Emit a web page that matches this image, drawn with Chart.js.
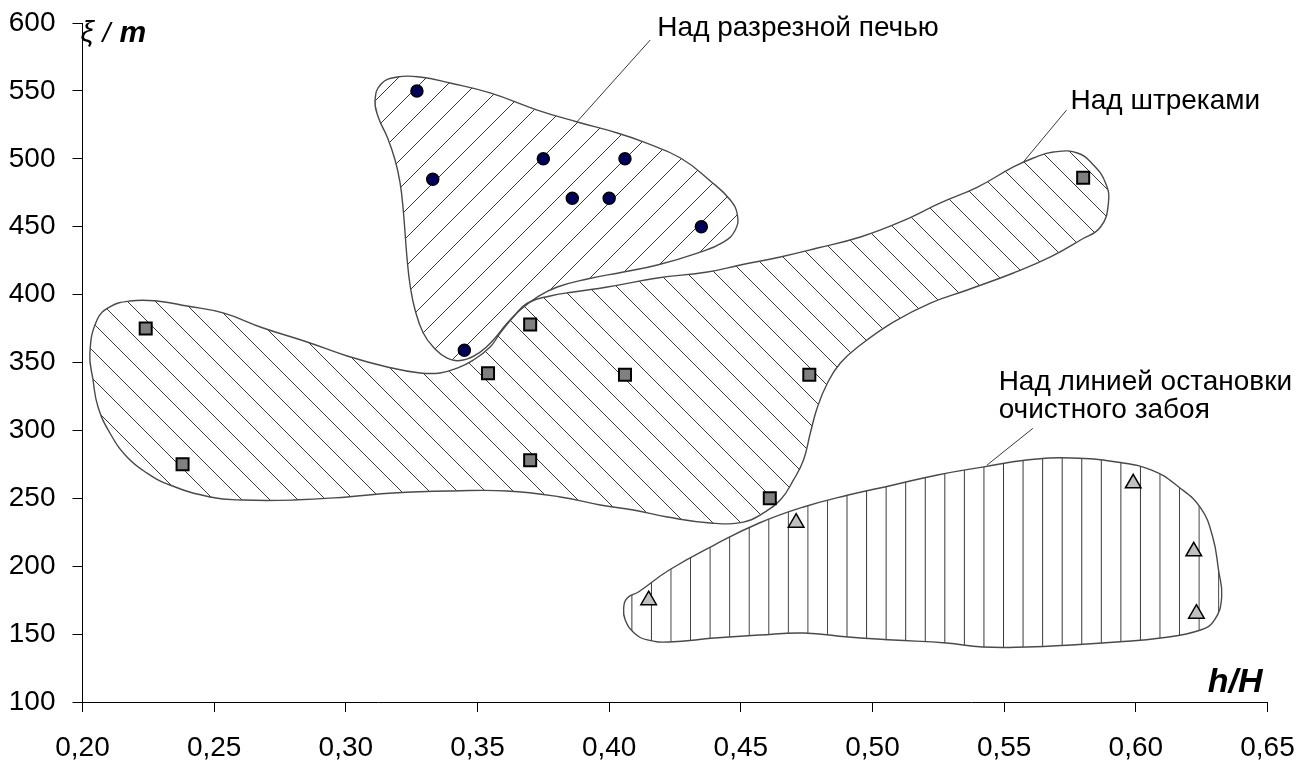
<!DOCTYPE html>
<html><head><meta charset="utf-8">
<script src="https://cdn.jsdelivr.net/npm/chart.js@4.4.1/dist/chart.umd.min.js"></script>
<style>html,body{margin:0;padding:0;background:#fff;overflow:hidden}canvas{display:block}</style>
</head><body>
<canvas id="c" width="1312" height="764"></canvas>
<script>
// ---- tick values / labels ----
const xTickValues = [0.20, 0.25, 0.30, 0.35, 0.40, 0.45, 0.50, 0.55, 0.60, 0.65];
const xTickLabels = ['0,20', '0,25', '0,30', '0,35', '0,40', '0,45', '0,50', '0,55', '0,60', '0,65'];
const yTickValues = [100, 150, 200, 250, 300, 350, 400, 450, 500, 550, 600];
const yTickLabels = ['100', '150', '200', '250', '300', '350', '400', '450', '500', '550', '600'];

// ---- measured points ----
const pechX = [0.327, 0.333, 0.375, 0.406, 0.386, 0.400, 0.435, 0.345];
const pechY = [550, 485, 500, 500, 471, 471, 450, 359];
const shtrekX = [0.224, 0.238, 0.354, 0.370, 0.370, 0.406, 0.476, 0.461, 0.580];
const shtrekY = [375, 275, 342, 378, 278, 341, 341, 250, 486];
const ostX = [0.415, 0.471, 0.599, 0.622, 0.623];
const ostY = [175, 232, 261, 211, 165];

// ---- region outlines (closed curves) ----
const blobPechX = [0.3111,0.3134,0.3195,0.3282,0.3396,0.3548,0.3727,0.3879,0.4031,0.4130,0.4271,0.4384,0.4460,0.4487,0.4479,0.4434,0.4335,0.4183,0.4054,0.3917,0.3803,0.3727,0.3662,0.3613,0.3560,0.3510,0.3446,0.3385,0.3332,0.3294,0.3263,0.3245,0.3233,0.3218,0.3206,0.3187,0.3157,0.3123];
const blobPechY = [543.3,555.1,560.2,560.2,555.8,548.5,535.9,527.1,519.0,512.4,500.6,483.7,469.7,458.6,447.6,438.7,430.6,421.8,416.6,411.5,405.6,398.2,388.7,379.1,366.6,357.7,351.8,353.3,361.4,371.7,388.7,405.6,425.5,462.3,482.2,499.1,516.1,530.8];
const blobShtrekX = [0.2028,0.2055,0.2104,0.2180,0.2283,0.2397,0.2534,0.2686,0.2853,0.3005,0.3157,0.3282,0.3358,0.3423,0.3484,0.3548,0.3586,0.3636,0.3689,0.3776,0.3864,0.3993,0.4183,0.4373,0.4498,0.4650,0.4791,0.4954,0.5106,0.5258,0.5399,0.5535,0.5611,0.5687,0.5778,0.5839,0.5885,0.5896,0.5866,0.5790,0.5676,0.5535,0.5360,0.5220,0.5079,0.4954,0.4878,0.4829,0.4791,0.4764,0.4738,0.4700,0.4650,0.4586,0.4510,0.4384,0.4221,0.4092,0.3966,0.3814,0.3613,0.3408,0.3180,0.3005,0.2800,0.2610,0.2484,0.2332,0.2245,0.2169,0.2104,0.2059,0.2040];
const blobShtrekY = [357.0,381.3,390.9,395.3,395.3,391.6,386.5,375.4,365.1,354.8,346.7,342.3,342.3,345.9,351.8,361.4,371.7,383.5,393.8,399.0,401.9,405.6,412.2,416.6,421.8,427.7,434.3,442.4,453.5,467.5,479.2,494.0,500.6,505.0,504.3,495.4,482.2,467.5,449.8,440.2,427.7,415.9,403.4,393.8,379.8,362.9,349.6,334.9,317.2,298.1,278.2,263.5,248.7,239.2,232.5,231.8,236.2,241.4,245.1,251.0,255.4,255.4,253.9,251.0,248.7,248.7,251.0,259.8,268.6,280.4,298.1,317.2,337.1];
const blobOstX = [0.4055,0.4069,0.4111,0.4228,0.4399,0.4570,0.4738,0.4908,0.5079,0.5247,0.5418,0.5585,0.5756,0.5927,0.6060,0.6163,0.6246,0.6292,0.6314,0.6326,0.6299,0.6246,0.6094,0.5927,0.5756,0.5585,0.5418,0.5281,0.5079,0.4908,0.4738,0.4570,0.4399,0.4228,0.4145,0.4095,0.4061];
const blobOstY = [169.2,176.6,181.0,197.2,215.6,231.8,243.6,252.4,259.8,267.2,273.0,278.2,279.7,276.7,270.8,258.3,242.9,221.5,197.2,177.3,160.4,153.0,147.1,144.2,142.0,140.5,140.5,143.4,145.7,147.9,150.8,149.3,147.1,144.2,145.7,150.8,160.4];

// ---- leader lines ----
const leaderPechX = [0.4156, 0.3878];
const leaderPechY = [587.5, 527.3];
const leaderShtrekX = [0.5737, 0.5574];
const leaderShtrekY = [535.9, 497.9];
const leaderOstX = [0.5609, 0.5435];
const leaderOstY = [301.5, 274.5];

// ---- labels ----
const labelPech = 'Над разрезной печью';
const labelShtrek = 'Над штреками';
const labelOst1 = 'Над линией остановки';
const labelOst2 = 'очистного забоя';

const FONT = '"Liberation Sans", Arial, sans-serif';
const canvas = document.getElementById('c');
const mainCtx = canvas.getContext('2d');

function pts(xs, ys) { return xs.map((x, i) => ({ x: x, y: ys[i] })); }

function hatch(kind, tx, sx) {
  const T = kind === 'vertical' ? 20 : 28;
  const c = document.createElement('canvas');
  c.width = T; c.height = T;
  const g = c.getContext('2d');
  g.strokeStyle = '#383838';
  g.lineWidth = 1;
  g.beginPath();
  if (kind === 'vertical') {
    g.moveTo(0.5, 0); g.lineTo(0.5, T);
  } else if (kind === 'up') {
    g.moveTo(-2, T + 2); g.lineTo(T + 2, -2);
    g.moveTo(-2, 2); g.lineTo(2, -2);
    g.moveTo(T - 2, T + 2); g.lineTo(T + 2, T - 2);
  } else {
    g.moveTo(-2, -2); g.lineTo(T + 2, T + 2);
    g.moveTo(T - 2, -2); g.lineTo(T + 2, 2);
    g.moveTo(-2, T - 2); g.lineTo(2, T + 2);
  }
  g.stroke();
  const p = mainCtx.createPattern(c, 'repeat');
  try { p.setTransform(new DOMMatrix().translate(tx, 0).scale(sx, 1)); } catch (e) {}
  return p;
}

const patPech = hatch('up', 0, 1);
const patShtrek = hatch('down', 22, 1);
const patOst = hatch('vertical', 5.42, 0.978);

const blobBase = {
  showLine: true, tension: 0.45, borderColor: '#4a4a4a', borderWidth: 1.4,
  pointRadius: 0, pointHoverRadius: 0, fill: 'shape', closedShape: true, order: 10
};
const leaderBase = {
  showLine: true, tension: 0, borderColor: '#3a3a3a', borderWidth: 1,
  pointRadius: 0, pointHoverRadius: 0, fill: false, order: 5
};

const closedShapes = {
  id: 'closedShapes',
  afterDatasetUpdate(chart, args) {
    const ds = chart.data.datasets[args.index];
    const line = args.meta.dataset;
    if (ds && ds.closedShape && line) {
      line._loop = true;
      line._fullLoop = true;
      line._segments = undefined;
      line._path = undefined;
      line._pointsUpdated = false;
    }
  }
};

const annotations = {
  id: 'annotations',
  afterDatasetsDraw(chart, args, opts) {
    const ctx = chart.ctx;
    const xs = chart.scales.x, ys = chart.scales.y, a = chart.chartArea;
    ctx.save();
    ctx.fillStyle = '#000';
    ctx.textBaseline = 'alphabetic';
    ctx.textAlign = 'left';
    ctx.font = opts.size + 'px ' + FONT;
    for (const it of opts.items) {
      ctx.fillText(it.text, xs.getPixelForValue(it.x), ys.getPixelForValue(it.y));
    }
    // y-axis title  ξ /m
    const by = a.top + 19;
    ctx.font = 'italic 30px ' + FONT;
    ctx.fillText('ξ', a.left - 2, by);
    ctx.font = 'italic 28px ' + FONT;
    ctx.fillText('/', a.left + 20, by);
    ctx.font = 'italic bold 30px ' + FONT;
    ctx.fillText('m', a.left + 37, by);
    // x-axis title h/H
    ctx.textAlign = 'right';
    ctx.font = 'italic bold 34px ' + FONT;
    ctx.fillText('h/H', a.right - 5, a.bottom - 10);
    ctx.restore();
  }
};

const chart = new Chart(mainCtx, {
  type: 'scatter',
  data: {
    datasets: [
      { label: labelPech, data: pts(pechX, pechY), pointStyle: 'circle', pointRadius: 6, pointHoverRadius: 6,
        backgroundColor: '#00005a', borderColor: '#000', borderWidth: 1.5, order: 0 },
      { label: labelShtrek, data: pts(shtrekX, shtrekY), pointStyle: 'rect', pointRadius: 8.5, pointHoverRadius: 8.5,
        backgroundColor: '#808080', borderColor: '#000', borderWidth: 2, order: 0 },
      { label: labelOst1 + ' ' + labelOst2, data: pts(ostX, ostY), pointStyle: 'triangle', pointRadius: 9, pointHoverRadius: 9,
        backgroundColor: '#c0c0c0', borderColor: '#000', borderWidth: 1.5, order: 0 },
      Object.assign({ label: 'outline 1', data: pts(blobPechX, blobPechY), backgroundColor: patPech }, blobBase),
      Object.assign({ label: 'outline 2', data: pts(blobShtrekX, blobShtrekY), backgroundColor: patShtrek }, blobBase),
      Object.assign({ label: 'outline 3', data: pts(blobOstX, blobOstY), backgroundColor: patOst }, blobBase),
      Object.assign({ label: 'leader 1', data: pts(leaderPechX, leaderPechY) }, leaderBase),
      Object.assign({ label: 'leader 2', data: pts(leaderShtrekX, leaderShtrekY) }, leaderBase),
      Object.assign({ label: 'leader 3', data: pts(leaderOstX, leaderOstY) }, leaderBase)
    ]
  },
  options: {
    responsive: false,
    animation: false,
    devicePixelRatio: 1,
    events: [],
    layout: { padding: { top: 23, right: 44.5, left: 0, bottom: 0 } },
    plugins: {
      legend: { display: false },
      tooltip: { enabled: false },
      annotations: {
        size: 28,
        items: [
          { text: labelPech, x: 0.4183, y: 590.4 },
          { text: labelShtrek, x: 0.5752, y: 536.5 },
          { text: labelOst1, x: 0.5479, y: 329.7 },
          { text: labelOst2, x: 0.5479, y: 309.1 }
        ]
      }
    },
    scales: {
      x: {
        type: 'linear', min: 0.2, max: 0.65,
        border: { display: true, color: '#000', width: 1 },
        grid: { drawOnChartArea: false, drawTicks: true, tickLength: 10, color: '#000', tickColor: '#000' },
        ticks: { font: { family: FONT, size: 28 }, color: '#000', padding: 19, maxRotation: 0, autoSkip: false,
          callback: (v, i) => xTickLabels[i] },
        afterBuildTicks: s => { s.ticks = xTickValues.map(v => ({ value: v })); },
        afterFit: s => { s.height = 62; s.paddingLeft = 0; s.paddingRight = 0; }
      },
      y: {
        type: 'linear', min: 100, max: 600,
        border: { display: true, color: '#000', width: 1 },
        grid: { drawOnChartArea: false, drawTicks: true, tickLength: 10, color: '#000', tickColor: '#000' },
        ticks: { font: { family: FONT, size: 28 }, color: '#000', padding: 17, autoSkip: false,
          callback: (v, i) => yTickLabels[i] },
        afterBuildTicks: s => { s.ticks = yTickValues.map(v => ({ value: v })); },
        afterFit: s => { s.width = 82.5; s.paddingTop = 0; s.paddingBottom = 0; }
      }
    }
  },
  plugins: [closedShapes, annotations]
});
</script>
</body></html>
